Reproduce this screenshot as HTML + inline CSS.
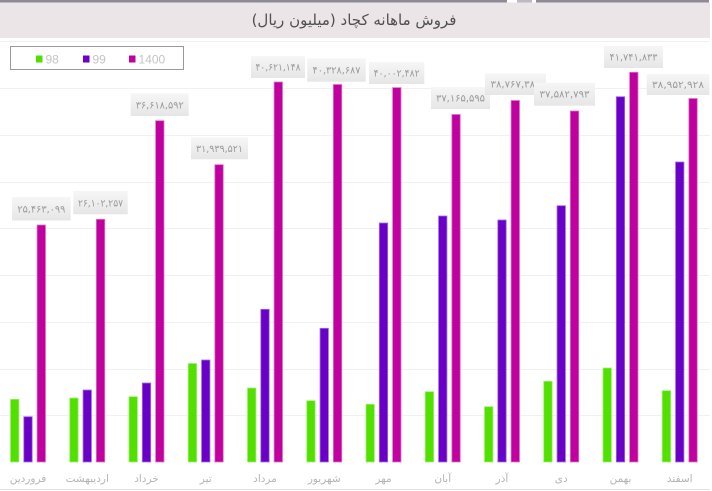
<!DOCTYPE html>
<html><head><meta charset="utf-8">
<style>
html,body{margin:0;padding:0;background:#fff;}
svg{display:block;}
.lbl{font-family:"DejaVu Sans",sans-serif;font-size:10px;fill:#9a9a9a;}
.xl{font-family:"DejaVu Sans",sans-serif;font-size:10.5px;fill:#b4b4b4;}
.lg{font-family:"Liberation Sans",sans-serif;font-size:12px;fill:#c4c4c4;}
</style></head>
<body>
<svg width="712" height="491" viewBox="0 0 712 491" xmlns="http://www.w3.org/2000/svg">
<defs>
<linearGradient id="lb" x1="0" y1="0" x2="0" y2="1">
<stop offset="0" stop-color="#f6f6f6"/><stop offset="1" stop-color="#e6e6e6"/>
</linearGradient>
</defs>
<rect x="0" y="0" width="712" height="491" fill="#fff"/>
<rect x="0" y="0" width="507" height="2.5" fill="#8f8a97"/>
<rect x="517" y="0" width="15" height="2.5" fill="#bdb8c2"/>
<rect x="536" y="0" width="173" height="2.5" fill="#8f8a97"/>
<rect x="0" y="2.5" width="710" height="35.5" fill="#ebe5e8"/>
<text x="354" y="25" text-anchor="middle" direction="rtl" font-family="DejaVu Sans, sans-serif" font-size="15" fill="#505050">فروش ماهانه کچاد (میلیون ریال)</text>

<g stroke="#f0f0f0" stroke-width="1">
<line x1="0" y1="41.5" x2="712" y2="41.5"/>
<line x1="0" y1="88.5" x2="712" y2="88.5"/>
<line x1="0" y1="135.5" x2="712" y2="135.5"/>
<line x1="0" y1="182.5" x2="712" y2="182.5"/>
<line x1="0" y1="228.5" x2="712" y2="228.5"/>
<line x1="0" y1="275.5" x2="712" y2="275.5"/>
<line x1="0" y1="322.5" x2="712" y2="322.5"/>
<line x1="0" y1="369.5" x2="712" y2="369.5"/>
<line x1="0" y1="415.5" x2="712" y2="415.5"/>
</g>

<rect x="10.5" y="46.5" width="173" height="23" fill="#fff" stroke="#9a9a9a" stroke-width="1"/>
<rect x="36" y="55.5" width="6.5" height="7" fill="#4fe000"/>
<text class="lg" x="45.5" y="63.5">98</text>
<rect x="83" y="55.5" width="6.5" height="7" fill="#6a00cc"/>
<text class="lg" x="92.5" y="63.5">99</text>
<rect x="129" y="55.5" width="6.5" height="7" fill="#c0009f"/>
<text class="lg" x="138.5" y="63.5">1400</text>

<g fill="#52e000" stroke="#9cf06a" stroke-width="0.8">
<rect x="10.5" y="399.3" width="8.4" height="62.7"/>
<rect x="69.75" y="398" width="8.4" height="64"/>
<rect x="129" y="396.7" width="8.4" height="65.3"/>
<rect x="188.25" y="363.5" width="8.4" height="98.5"/>
<rect x="247.5" y="388" width="8.4" height="74"/>
<rect x="306.75" y="400.7" width="8.4" height="61.3"/>
<rect x="366" y="404.3" width="8.4" height="57.7"/>
<rect x="425.25" y="391.7" width="8.4" height="70.3"/>
<rect x="484.5" y="406.7" width="8.4" height="55.3"/>
<rect x="543.75" y="381.3" width="8.4" height="80.7"/>
<rect x="603" y="368" width="8.4" height="94"/>
<rect x="662.25" y="390.7" width="8.4" height="71.3"/>
</g>
<g fill="#6a00c8" stroke="#a070e0" stroke-width="0.8">
<rect x="23.8" y="416.7" width="8.4" height="45.3"/>
<rect x="83.05" y="390" width="8.4" height="72"/>
<rect x="142.3" y="383" width="8.4" height="79"/>
<rect x="201.55" y="360" width="8.4" height="102"/>
<rect x="260.8" y="309.3" width="8.4" height="152.7"/>
<rect x="320.05" y="328.3" width="8.4" height="133.7"/>
<rect x="379.3" y="223" width="8.4" height="239"/>
<rect x="438.55" y="216" width="8.4" height="246"/>
<rect x="497.8" y="220" width="8.4" height="242"/>
<rect x="557.05" y="205.7" width="8.4" height="256.3"/>
<rect x="616.3" y="96.7" width="8.4" height="365.3"/>
<rect x="675.55" y="162" width="8.4" height="300"/>
</g>
<g fill="#c0009f" stroke="#d875c4" stroke-width="0.8">
<rect x="37.1" y="225" width="8.4" height="237"/>
<rect x="96.35" y="219.3" width="8.4" height="242.7"/>
<rect x="155.6" y="120.7" width="8.4" height="341.3"/>
<rect x="214.85" y="164.7" width="8.4" height="297.3"/>
<rect x="274.1" y="82" width="8.4" height="380"/>
<rect x="333.35" y="84.5" width="8.4" height="377.5"/>
<rect x="392.6" y="87.6" width="8.4" height="374.4"/>
<rect x="451.85" y="114.5" width="8.4" height="347.5"/>
<rect x="511.1" y="100.5" width="8.4" height="361.5"/>
<rect x="570.35" y="111" width="8.4" height="351"/>
<rect x="629.6" y="72.3" width="8.4" height="389.7"/>
<rect x="688.85" y="98.5" width="8.4" height="363.5"/>
</g>

<g>
<rect x="12" y="197" width="58.7" height="23.5" fill="url(#lb)"/>
<text class="lbl" x="41.35" y="212.5" text-anchor="middle" textLength="48" lengthAdjust="spacingAndGlyphs">۲۵,۴۶۳,۰۹۹</text>
<rect x="73.3" y="191" width="54.4" height="23.3" fill="url(#lb)"/>
<text class="lbl" x="100.5" y="206.5" text-anchor="middle" textLength="45" lengthAdjust="spacingAndGlyphs">۲۶,۱۰۲,۲۵۷</text>
<rect x="130.7" y="93.3" width="58" height="22.7" fill="url(#lb)"/>
<text class="lbl" x="159.7" y="108.5" text-anchor="middle" textLength="48" lengthAdjust="spacingAndGlyphs">۳۶,۶۱۸,۵۹۲</text>
<rect x="191" y="137.3" width="57" height="22" fill="url(#lb)"/>
<text class="lbl" x="219.5" y="152" text-anchor="middle" textLength="47" lengthAdjust="spacingAndGlyphs">۳۱,۹۳۹,۵۲۱</text>
<rect x="251" y="56" width="54" height="22" fill="url(#lb)"/>
<text class="lbl" x="278" y="70.5" text-anchor="middle" textLength="45" lengthAdjust="spacingAndGlyphs">۴۰,۶۲۱,۱۴۸</text>
<rect x="307.3" y="58.3" width="58.4" height="23.4" fill="url(#lb)"/>
<text class="lbl" x="336.5" y="73.5" text-anchor="middle" textLength="48" lengthAdjust="spacingAndGlyphs">۴۰,۳۲۸,۶۸۷</text>
<rect x="369" y="62" width="55.3" height="22" fill="url(#lb)"/>
<text class="lbl" x="396.65" y="76.5" text-anchor="middle" textLength="46" lengthAdjust="spacingAndGlyphs">۴۰,۰۰۲,۴۸۲</text>
<rect x="431" y="87" width="59" height="22" fill="url(#lb)"/>
<text class="lbl" x="460.5" y="101.5" text-anchor="middle" textLength="49" lengthAdjust="spacingAndGlyphs">۳۷,۱۶۵,۵۹۵</text>
<rect x="485" y="73.3" width="61" height="21.7" fill="url(#lb)"/>
<text class="lbl" x="515.5" y="87.7" text-anchor="middle" textLength="50" lengthAdjust="spacingAndGlyphs">۳۸,۷۶۷,۳۸۰</text>
<rect x="534" y="82.7" width="61" height="23" fill="url(#lb)"/>
<text class="lbl" x="564.5" y="97.7" text-anchor="middle" textLength="50" lengthAdjust="spacingAndGlyphs">۳۷,۵۸۲,۷۹۳</text>
<rect x="604" y="46" width="59" height="22" fill="url(#lb)"/>
<text class="lbl" x="633.5" y="60.5" text-anchor="middle" textLength="48" lengthAdjust="spacingAndGlyphs">۴۱,۷۴۱,۸۳۳</text>
<rect x="646.7" y="74" width="62.6" height="21" fill="url(#lb)"/>
<text class="lbl" x="678" y="88" text-anchor="middle" textLength="52" lengthAdjust="spacingAndGlyphs">۳۸,۹۵۲,۹۲۸</text>
</g>

<g text-anchor="middle">
<text class="xl" x="28" y="482" direction="rtl">فروردین</text>
<text class="xl" x="87.25" y="482" direction="rtl">اردیبهشت</text>
<text class="xl" x="146.5" y="482" direction="rtl">خرداد</text>
<text class="xl" x="205.75" y="482" direction="rtl">تیر</text>
<text class="xl" x="265" y="482" direction="rtl">مرداد</text>
<text class="xl" x="324.25" y="482" direction="rtl">شهریور</text>
<text class="xl" x="383.5" y="482" direction="rtl">مهر</text>
<text class="xl" x="442.75" y="482" direction="rtl">آبان</text>
<text class="xl" x="502" y="482" direction="rtl">آذر</text>
<text class="xl" x="561.25" y="482" direction="rtl">دی</text>
<text class="xl" x="620.5" y="482" direction="rtl">بهمن</text>
<text class="xl" x="679.75" y="482" direction="rtl">اسفند</text>
</g>

<line x1="0" y1="489.5" x2="712" y2="489.5" stroke="#e2e2e2" stroke-width="1"/>
<rect x="710" y="0" width="2" height="491" fill="#fff"/>
</svg>
</body></html>
